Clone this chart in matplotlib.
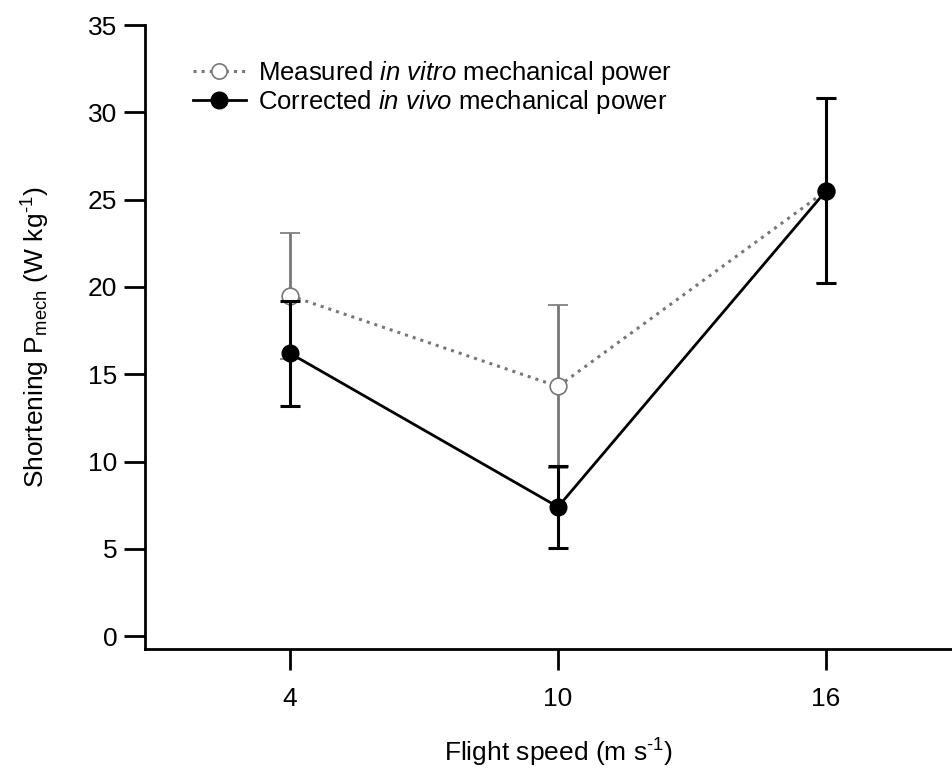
import matplotlib
matplotlib.use("Agg")
import matplotlib.pyplot as plt
from matplotlib.lines import Line2D

plt.rcParams['font.family'] = ['Liberation Sans', 'DejaVu Sans']
plt.rcParams['mathtext.fontset'] = 'custom'
plt.rcParams['mathtext.rm'] = 'Liberation Sans'
plt.rcParams['mathtext.it'] = 'Liberation Sans:italic'

# data
speed = [4, 10, 16]
vitro = [19.5, 14.3, 25.5]
vitro_err = [3.6, 4.65, 5.3]
vivo = [16.2, 7.4, 25.5]
vivo_err = [3.0, 2.35, 5.3]

fig = plt.figure(figsize=(9.52, 7.70), dpi=100)
ax = fig.add_axes([0.1523, 0.1571, 0.8477, 0.8104])

grey = '#777777'
ax.errorbar(speed, vitro, yerr=vitro_err, color=grey, ls=':', lw=2.2,
            marker='o', ms=12, mfc='white', mec=grey, mew=1.2,
            ecolor=grey, elinewidth=2, capsize=7, capthick=2, zorder=2)
ax.errorbar(speed, vivo, yerr=vivo_err, color='black', ls='-', lw=2,
            marker='o', ms=12, mfc='black', mec='black',
            ecolor='black', elinewidth=2.2, capsize=7, capthick=2.2, zorder=3)

ax.set_xlim(0.754, 18.82)
ax.set_ylim(-0.74, 35)
ax.set_xticks(speed)
ax.set_yticks(range(0, 36, 5))

for s in ['top', 'right']:
    ax.spines[s].set_visible(False)
for s in ['left', 'bottom']:
    ax.spines[s].set_linewidth(2)
ax.tick_params(direction='out', length=15, width=2, labelsize=19)
ax.tick_params(axis='x', pad=12)
ax.tick_params(axis='y', pad=5)

ax.set_xlabel('Flight speed (m s$^{\\text{-1}}$)', fontsize=19)
ax.xaxis.set_label_coords(0.512, -0.14)
ax.set_ylabel('Shortening P$_{\\mathrm{mech}}$ (W kg$^{\\text{-1}}$)', fontsize=19, labelpad=26)

handles = [
    Line2D([], [], color=grey, ls=':', lw=2.2, marker='o', ms=11,
           mfc='white', mec=grey, mew=1.2),
    Line2D([], [], color='black', ls='-', lw=2, marker='o', ms=12,
           mfc='black', mec='black'),
]
labels = ['Measured $\\mathit{in\\ vitro}$ mechanical power',
          'Corrected $\\mathit{in\\ vivo}$ mechanical power']
ax.legend(handles, labels, loc='upper left', bbox_to_anchor=(0.037, 0.975),
          frameon=False, fontsize=18.5, handlelength=2.05, handletextpad=0.5,
          labelspacing=0.05, borderpad=0.2)

fig.savefig('out.png', dpi=100)
